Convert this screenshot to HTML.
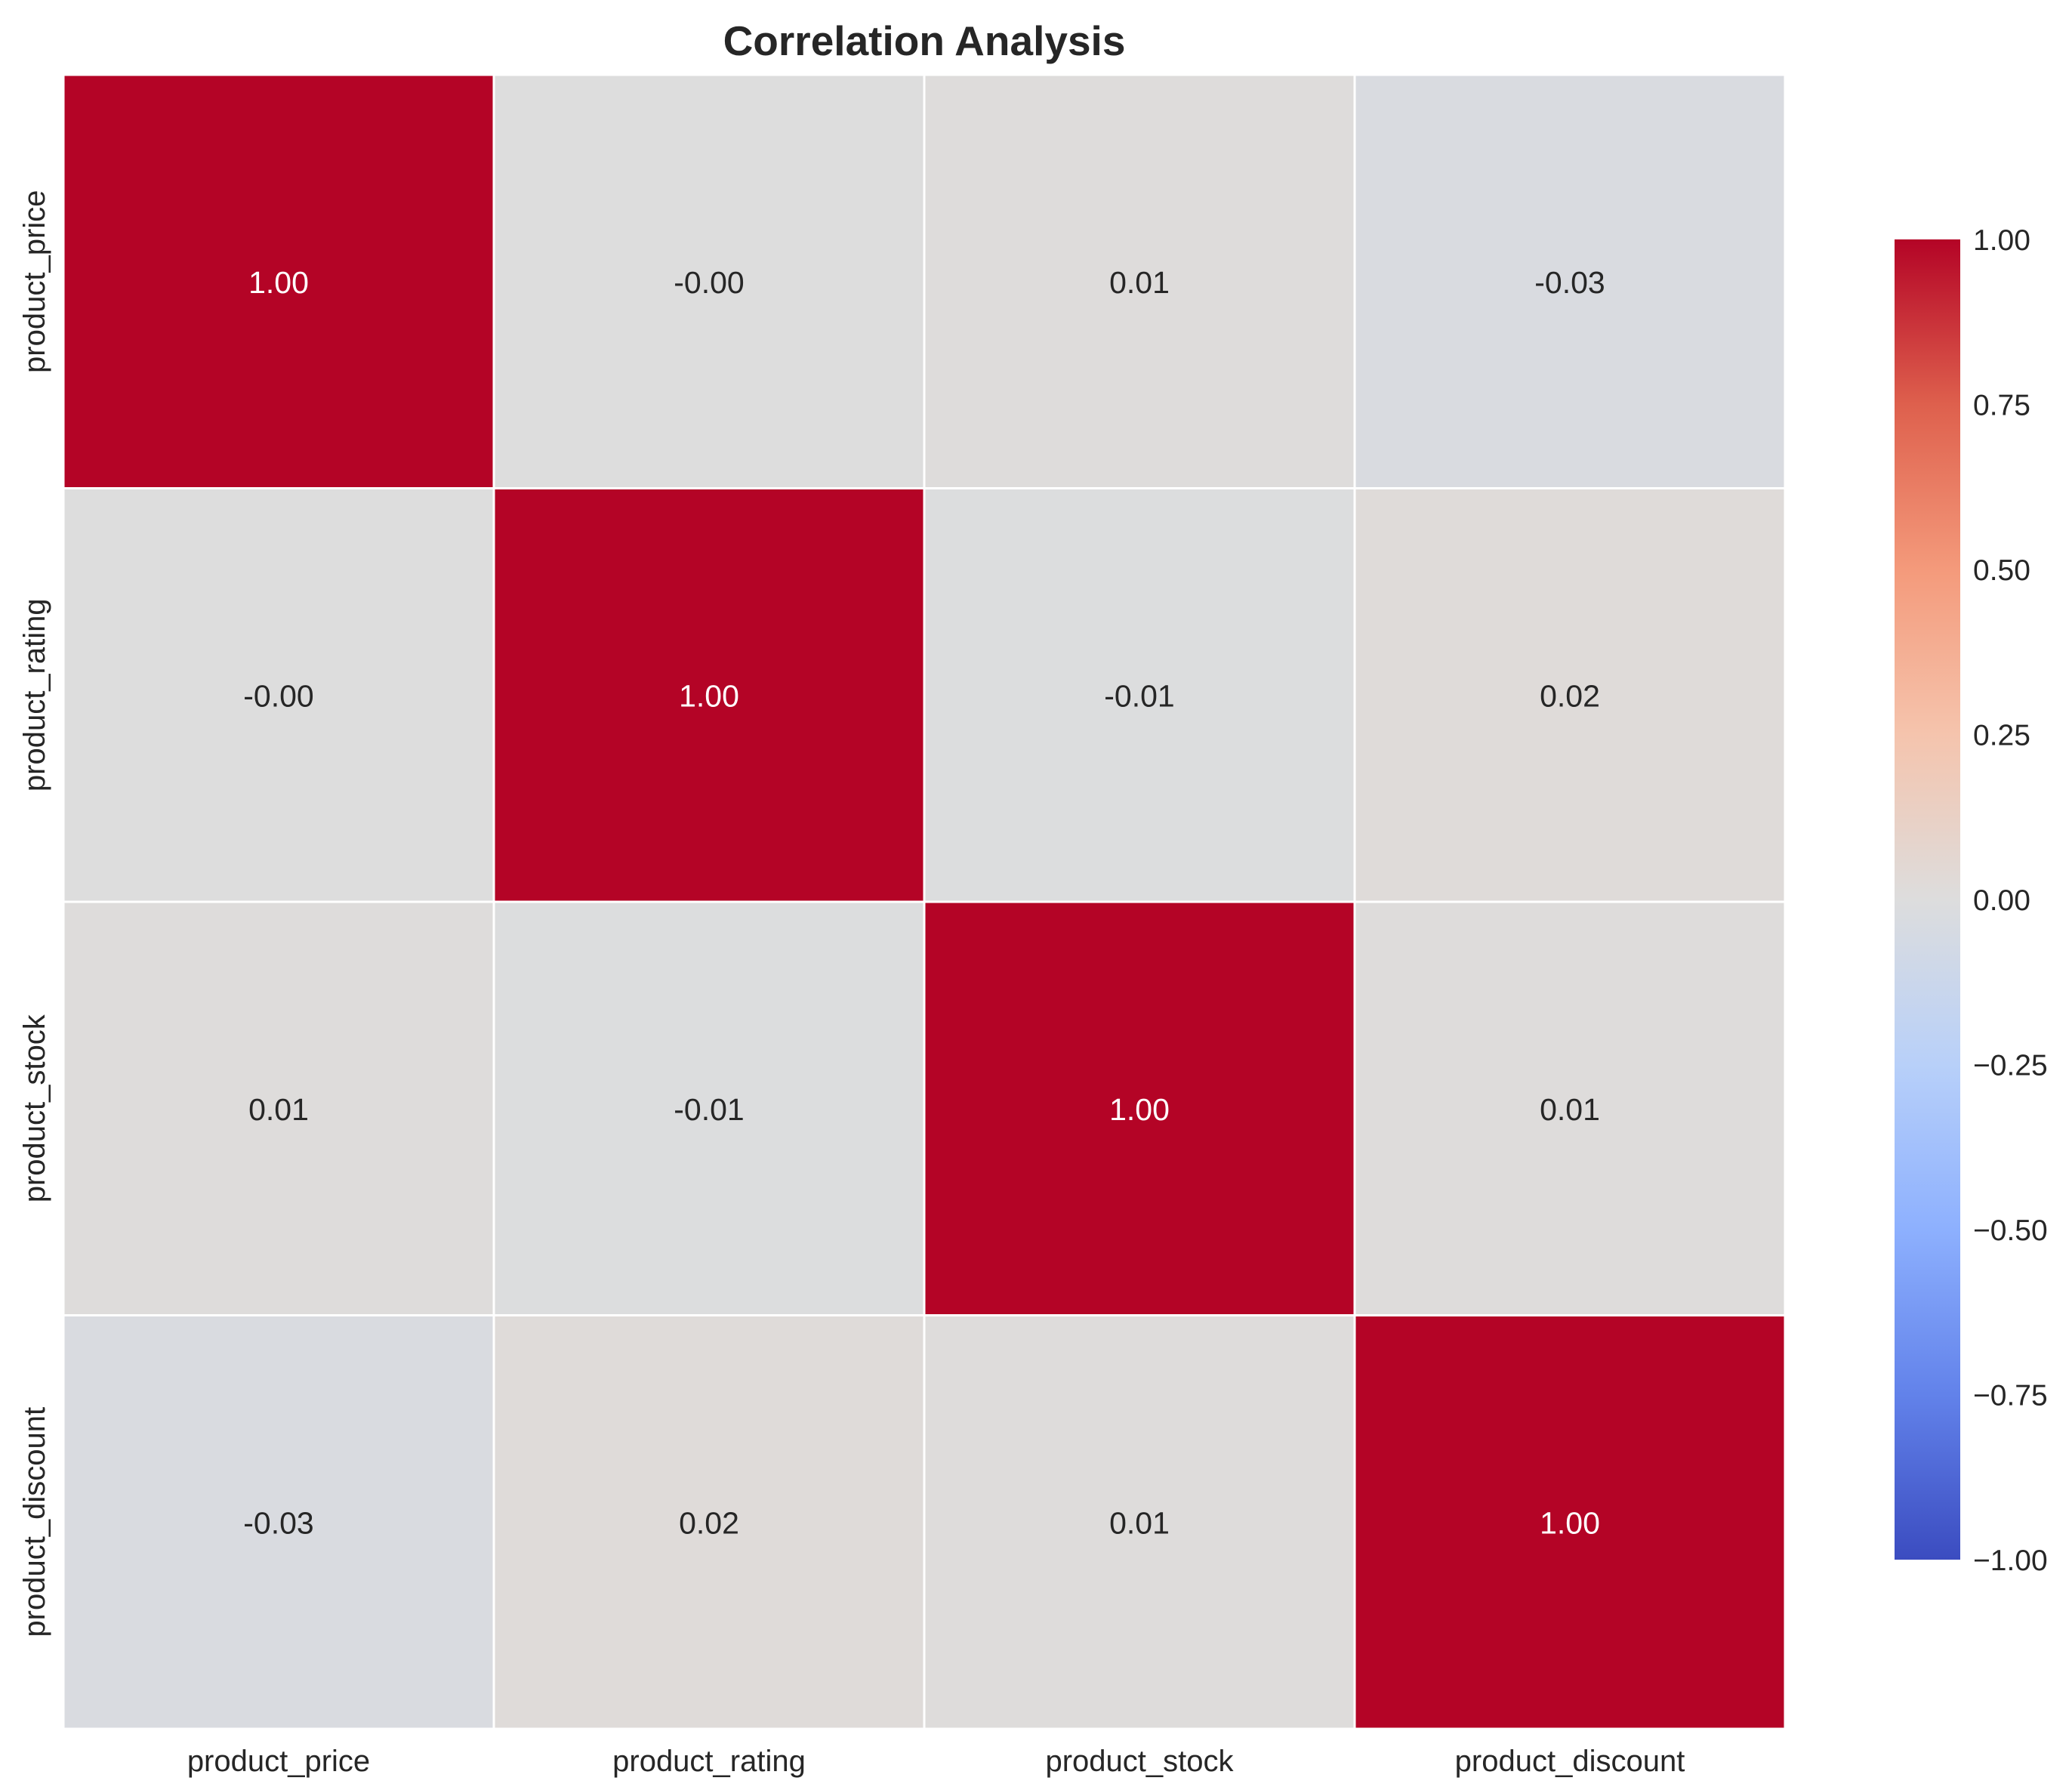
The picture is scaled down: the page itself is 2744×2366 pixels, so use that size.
<!DOCTYPE html>
<html><head><meta charset="utf-8"><style>
html,body{margin:0;padding:0;background:#fff;}
svg{display:block;font-family:"Liberation Sans",Arial,sans-serif;}
</style></head><body>
<svg id="chart" width="2744" height="2366" viewBox="0 0 2744 2366">
<defs>
<linearGradient id="cbgrad" x1="0" y1="1" x2="0" y2="0">
<stop offset="0" stop-color="#3b4cc0"/><stop offset="0.125" stop-color="#6282ea"/>
<stop offset="0.25" stop-color="#8db0fe"/><stop offset="0.375" stop-color="#b8d0f9"/>
<stop offset="0.5" stop-color="#dddddd"/><stop offset="0.625" stop-color="#f5c4ad"/>
<stop offset="0.75" stop-color="#f49a7b"/><stop offset="0.875" stop-color="#de604d"/>
<stop offset="1" stop-color="#b40426"/>
</linearGradient>
</defs>
<text x="1224" y="73" text-anchor="middle" font-size="55" font-weight="bold" fill="#262626">Correlation Analysis</text>
<g id="cells"></g>
<g id="labels"></g>
<rect x="2509" y="317" width="87" height="1748" fill="url(#cbgrad)"/>
<g id="cbticks"></g>
</svg>
<script>
const categories = ["product_price","product_rating","product_stock","product_discount"];
const row0 = [1.00, -0.002, 0.008, -0.03];
const row1 = [-0.002, 1.00, -0.008, 0.02];
const row2 = [0.008, -0.008, 1.00, 0.01];
const row3 = [-0.03, 0.02, 0.01, 1.00];
const matrix = [row0, row1, row2, row3];
const cbTicks = [1.00, 0.75, 0.50, 0.25, 0.00, -0.25, -0.50, -0.75, -1.00];

const NS = "http://www.w3.org/2000/svg";
const X0 = 84, X1 = 2364, Y0 = 99, Y1 = 2289;
const cw = (X1 - X0) / categories.length, ch = (Y1 - Y0) / categories.length;
const xPos = i => X0 + i * cw;
const yPos = j => Y0 + j * ch;
const CB_TOP = 317, CB_BOT = 2065;
const cbY = v => CB_BOT - (v + 1) / 2 * (CB_BOT - CB_TOP);

const stops = [[59,76,192],[98,130,234],[141,176,254],[184,208,249],[221,221,221],[245,196,173],[244,154,123],[222,96,77],[180,4,38]];
function coolwarm(v){
  let t = Math.max(0, Math.min(1, (v + 1) / 2)) * 8;
  let i = Math.min(7, Math.floor(t)), f = t - i;
  const a = stops[i], b = stops[i+1];
  return "rgb(" + [0,1,2].map(k => Math.round(a[k] + (b[k]-a[k]) * f)).join(",") + ")";
}
function fmt(v){ let s = v.toFixed(2); if (v < 0 && s === "0.00") s = "-0.00"; return s; }

const cells = document.getElementById("cells");
const labels = document.getElementById("labels");
matrix.forEach((row, j) => {
  row.forEach((v, i) => {
    const r = document.createElementNS(NS, "rect");
    r.setAttribute("x", xPos(i)); r.setAttribute("y", yPos(j));
    r.setAttribute("width", cw); r.setAttribute("height", ch);
    r.setAttribute("fill", coolwarm(v)); r.setAttribute("stroke", "#fff"); r.setAttribute("stroke-width", "3");
    
    
    cells.appendChild(r);
    const t = document.createElementNS(NS, "text");
    t.setAttribute("x", xPos(i) + cw / 2); t.setAttribute("y", yPos(j) + ch / 2 + 15);
    t.setAttribute("text-anchor", "middle"); t.setAttribute("font-size", "41");
    t.setAttribute("fill", Math.abs(v) > 0.5 ? "#ffffff" : "#262626");
    t.textContent = fmt(v);
    
    
    labels.appendChild(t);
  });
});
categories.forEach((c, i) => {
  const t = document.createElementNS(NS, "text");
  t.setAttribute("x", xPos(i) + cw / 2); t.setAttribute("y", 2345);
  t.setAttribute("text-anchor", "middle"); t.setAttribute("font-size", "40"); t.setAttribute("fill", "#262626");
  t.textContent = c;
  
  
  labels.appendChild(t);
  const y = document.createElementNS(NS, "text");
  const cy = yPos(i) + ch / 2;
  y.setAttribute("transform", "translate(59," + cy + ") rotate(-90)");
  y.setAttribute("text-anchor", "middle"); y.setAttribute("font-size", "40"); y.setAttribute("fill", "#262626");
  y.textContent = c;
  
  
  labels.appendChild(y);
});
const cbt = document.getElementById("cbticks");
cbTicks.forEach(v => {
  const t = document.createElementNS(NS, "text");
  t.setAttribute("x", 2613); t.setAttribute("y", cbY(v) + 14);
  t.setAttribute("font-size", "39"); t.setAttribute("fill", "#262626");
  t.textContent = v < 0 ? "\u2212" + Math.abs(v).toFixed(2) : v.toFixed(2);
  
  
  cbt.appendChild(t);
});
</script>
</body></html>
